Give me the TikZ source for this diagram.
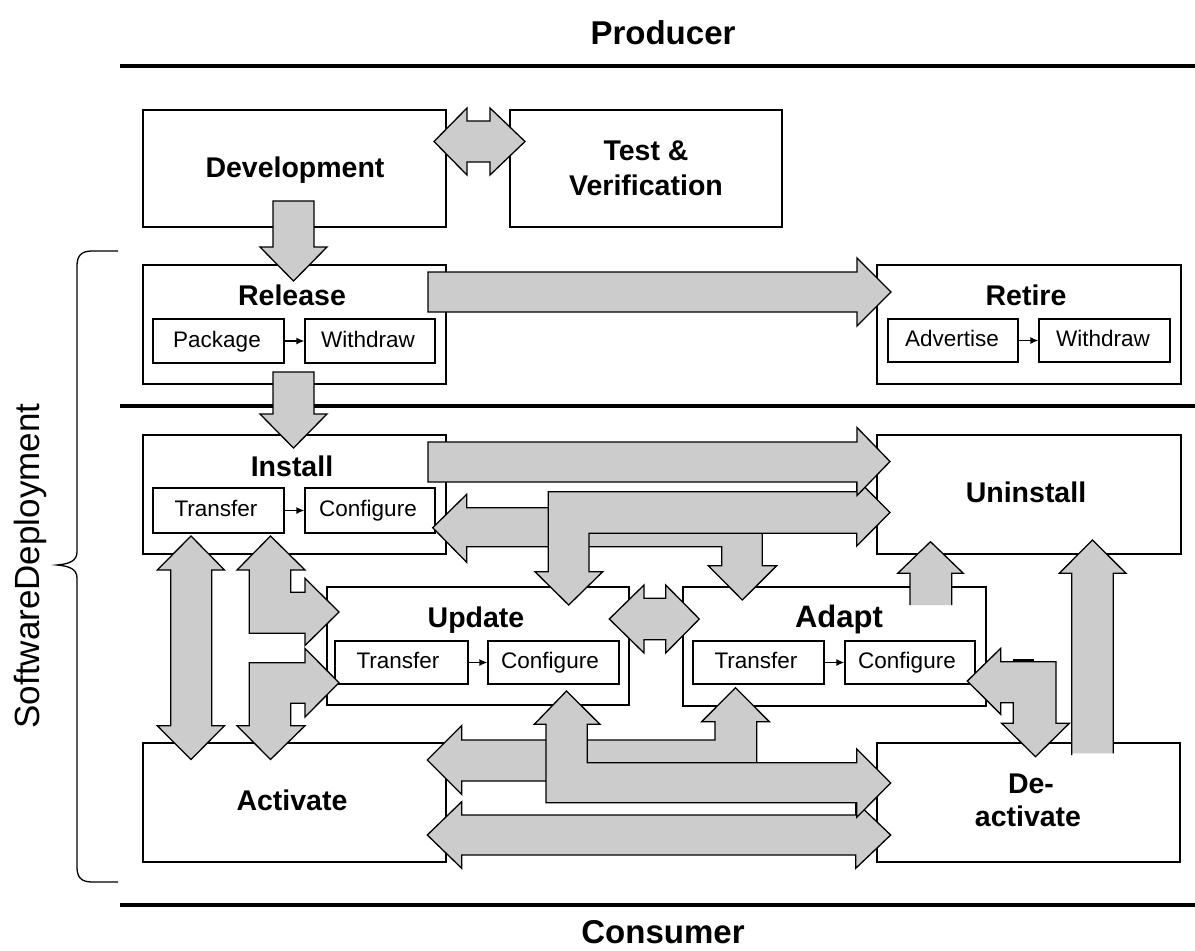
\documentclass[tikz,border=0pt]{standalone}
\usepackage{fontspec}
\setmainfont{Liberation Sans}
\usetikzlibrary{fit,arrows.meta}
\definecolor{ag}{RGB}{204,204,204}
\begin{document}
\begin{tikzpicture}[x=1pt,y=-1pt,
  box/.style={draw, line width=1.6pt, fill=white, inner sep=0pt},
  sub/.style={draw, line width=1.3pt, fill=white, inner sep=0pt},
  blk/.style={fill=ag, draw=black, line width=1.3pt, line join=miter},
  blkfill/.style={fill=ag, draw=none},
  blkline/.style={draw=black, line width=1.3pt, line join=miter},
  ttl/.style={font=\fontsize{28.5}{30}\selectfont\bfseries, anchor=base, inner sep=0pt},
  lbl/.style={font=\fontsize{22.5}{24}\selectfont, anchor=base, inner sep=0pt},
  hdr/.style={font=\fontsize{33}{35}\selectfont\bfseries, anchor=base, inner sep=0pt},
  sepline/.style={line width=3.5pt},
  link/.style={-{Latex[length=8pt,width=7pt]}, line width=1.3pt}
]
\useasboundingbox (0,0) rectangle (1195,951);

% headers and separators
\node[hdr] (prod) at (663,44) {Producer};
\node[hdr] (cons) at (663,943) {Consumer};
\coordinate (s1a) at (120,66);   \coordinate (s1b) at (1195,66);
\coordinate (s2a) at (120,406);  \coordinate (s2b) at (1195,406);
\coordinate (s3a) at (120,905);  \coordinate (s3b) at (1195,905);
\draw[sepline] (s1a) -- (s1b);
\draw[sepline] (s2a) -- (s2b);
\draw[sepline] (s3a) -- (s3b);

% brace and side label
\coordinate (brT) at (118,251);
\coordinate (brB) at (118,882);
\draw[line width=1.3pt] (brT) -- (92,251) .. controls (81,251) and (77,256) .. (77,266)
  -- (77,552) .. controls (77,561) and (69,564) .. (57,565)
  .. controls (69,566) and (77,569) .. (77,578)
  -- (77,867) .. controls (77,877) and (81,882) .. (92,882) -- (brB);
\node[font=\fontsize{35}{36}\selectfont, rotate=90, inner sep=0pt] (sdl) at (30,566) {SoftwareDeployment};

% boxes
\node[box, fit={(143,110) (446,227)}] (dev) {};
\node[box, fit={(510,110) (782,227)}] (test) {};
\node[box, fit={(143,265) (446,384)}] (rel) {};
\node[sub, fit={(153,319) (284,363)}] (pkg) {};
\node[sub, fit={(305,319) (435,363)}] (rwd) {};
\node[box, fit={(877,265) (1181,384)}] (ret) {};
\node[sub, fit={(888,319) (1018,362)}] (adv) {};
\node[sub, fit={(1039,319) (1170,362)}] (twd) {};
\node[box, fit={(143,435) (446,554)}] (ins) {};
\node[sub, fit={(153,488) (284,533)}] (itr) {};
\node[sub, fit={(305,488) (435,533)}] (icf) {};
\node[box, fit={(877,435) (1181,554)}] (unins) {};
\node[box, fit={(327,587) (629,705)}] (upd) {};
\node[sub, fit={(335,641) (468,684)}] (utr) {};
\node[sub, fit={(488,641) (619,684)}] (ucf) {};
\node[box, fit={(683,587) (986,706)}] (adp) {};
\node[sub, fit={(693,641) (824,684)}] (atr) {};
\node[sub, fit={(845,641) (975,684)}] (acf) {};
\node[box, fit={(143,743) (446,862)}] (act) {};
\node[box, fit={(877,743) (1180,862)}] (deact) {};

% titles
\node[ttl] (devT) at (295,177) {Development};
\node[ttl] (testT1) at (646,160) {Test \&};
\node[ttl] (testT2) at (646,195) {Verification};
\node[ttl] (relT) at (292,305) {Release};
\node[ttl] (retT) at (1026,305) {Retire};
\node[ttl] (insT) at (292,476) {Install};
\node[ttl] (uninsT) at (1026,502) {Uninstall};
\node[ttl] (updT) at (476,627) {Update};
\node[ttl, font=\fontsize{31}{32}\selectfont\bfseries] (adpT) at (839,627) {Adapt};
\node[ttl] (actT) at (292,810) {Activate};
\node[ttl] (deactT1) at (1031,793) {De-};
\node[ttl] (deactT2) at (1028,826) {activate};

% sub labels
\node[lbl] (pkgT) at (217,347) {Package};
\node[lbl] (rwdT) at (368,347) {Withdraw};
\node[lbl] (advT) at (952,346.5) {Advertise};
\node[lbl] (twdT) at (1103,346.5) {Withdraw};
\node[lbl] (itrT) at (216,516.5) {Transfer};
\node[lbl] (icfT) at (368,516.5) {Configure};
\node[lbl] (utrT) at (398,668.5) {Transfer};
\node[lbl] (ucfT) at (550,668.5) {Configure};
\node[lbl] (atrT) at (756,668.5) {Transfer};
\node[lbl] (acfT) at (907,668.5) {Configure};

\draw[link] (pkg.east) -- (rwd.west);
\draw[link] (adv.east) -- (twd.west);
\draw[link] (itr.east) -- (icf.west);
\draw[link] (utr.east) -- (ucf.west);
\draw[link] (atr.east) -- (acf.west);

% block arrows
% Development -> Release
\draw[blk] (273,201) -- (314,201) -- (314,247) -- (327,247) -- (293.5,281) -- (260,247) -- (273,247) -- cycle;
% Development <-> Test
\draw[blk] (434,141.5) -- (467,108) -- (467,121) -- (490,121) -- (490,108) -- (525,141.5) -- (490,175) -- (490,162) -- (467,162) -- (467,175) -- cycle;
% Release -> Retire
\draw[blk] (428,272) -- (857,272) -- (857,258) -- (891,292) -- (857,326) -- (857,312) -- (428,312) -- cycle;
% Release -> Install
\draw[blk] (273,372) -- (314,372) -- (314,414) -- (327,414) -- (293.5,448) -- (260,414) -- (273,414) -- cycle;
% Install band -> Adapt
\draw[blk] (432.7,527.7) -- (466.7,494.3) -- (466.7,507.7) -- (762.3,507.7) -- (762.3,565.7) -- (776.7,565.7) -- (742.3,600) -- (708.3,565.7) -- (721.7,565.7) -- (721.7,546.7) -- (466.7,546.7) -- (466.7,562.3) -- cycle;
% T: Update <-> Uninstall
\draw[blk] (548.3,491.7) -- (856.7,491.7) -- (856.7,479) -- (890,512.5) -- (856.7,546) -- (856.7,533.3) -- (589,533.3) -- (589,571.7) -- (602.7,571.7) -- (568.7,605) -- (535,571.7) -- (548.3,571.7) -- cycle;
% Install -> Uninstall
\draw[blk] (428,442) -- (857,442) -- (857,427.5) -- (890,461.5) -- (857,495.5) -- (857,482) -- (428,482) -- cycle;
% Install <-> Activate
\draw[blk] (191,536) -- (224.5,570) -- (211.7,570) -- (211.7,725.7) -- (224.5,725.7) -- (191,759.5) -- (157.3,725.7) -- (170.7,725.7) -- (170.7,570) -- (157.3,570) -- cycle;
% Install Transfer <-> Update (upper)
\draw[blk] (270.5,536) -- (305,570) -- (290.7,570) -- (290.7,592.3) -- (305,592.3) -- (305,578.3) -- (339,612) -- (305,645.5) -- (305,633.3) -- (249.3,633.3) -- (249.3,570) -- (237,570) -- cycle;
% Update Transfer <-> Activate (lower)
\draw[blk] (305,648.5) -- (339,682.7) -- (305,717) -- (305,703.3) -- (290.7,703.3) -- (290.7,725.7) -- (305,725.7) -- (270.5,759.5) -- (237,725.7) -- (249.3,725.7) -- (249.3,662.7) -- (305,662.7) -- cycle;
% Update <-> Adapt
\draw[blk] (609.3,619) -- (644,585) -- (644,598.3) -- (665.7,598.3) -- (665.7,585) -- (699.3,619) -- (665.7,653) -- (665.7,639.7) -- (644,639.7) -- (644,653) -- cycle;
% Adapt -> Uninstall
\fill[blkfill] (910,605) -- (910,573.3) -- (897.7,573.3) -- (930.5,541.7) -- (963.3,573.3) -- (951.7,573.3) -- (951.7,605) -- cycle;
\draw[blkline] (910,605) -- (910,573.3) -- (897.7,573.3) -- (930.5,541.7) -- (963.3,573.3) -- (951.7,573.3) -- (951.7,605);
% Deactivate -> Uninstall
\fill[blkfill] (1071.7,753.3) -- (1071.7,573.3) -- (1059.3,573.3) -- (1092.5,540) -- (1126,573.3) -- (1113.3,573.3) -- (1113.3,753.3) -- cycle;
\draw[blkline] (1071.7,755) -- (1071.7,573.3) -- (1059.3,573.3) -- (1092.5,540) -- (1126,573.3) -- (1113.3,573.3) -- (1113.3,753.3);
% Adapt Configure <- -> Deactivate
\draw[blk] (967.3,681) -- (1000.7,648.3) -- (1000.7,661.7) -- (1056,661.7) -- (1056,723.3) -- (1069.3,723.3) -- (1035.5,756.7) -- (1001.7,723.3) -- (1013.3,723.3) -- (1013.3,702.7) -- (1000.7,702.7) -- (1000.7,714.3) -- cycle;
\draw[line width=2.5pt] (1012.7,660.5) -- (1034,660.5);
% Activate <-> Deactivate
\draw[blk] (427.3,835) -- (461.7,801.7) -- (461.7,815) -- (855.7,815) -- (855.7,801.7) -- (890.7,835) -- (855.7,868.3) -- (855.7,855) -- (461.7,855) -- (461.7,868.3) -- cycle;
% Activate <- -> Adapt Transfer
\draw[blk] (427.3,760) -- (461.7,725.5) -- (461.7,740) -- (715,740) -- (715,721.7) -- (701.7,721.7) -- (735.5,687.7) -- (769.3,721.7) -- (756.7,721.7) -- (756.7,781) -- (461.7,781) -- (461.7,794.5) -- cycle;
% Update Configure <- -> Deactivate
\draw[blk] (546,724.3) -- (534.3,724.3) -- (566.5,691) -- (600,724.3) -- (587.3,724.3) -- (587.3,762.7) -- (856.7,762.7) -- (856.7,749) -- (890.7,783) -- (856.7,817.3) -- (856.7,802.7) -- (546,802.7) -- cycle;
\end{tikzpicture}
\end{document}
